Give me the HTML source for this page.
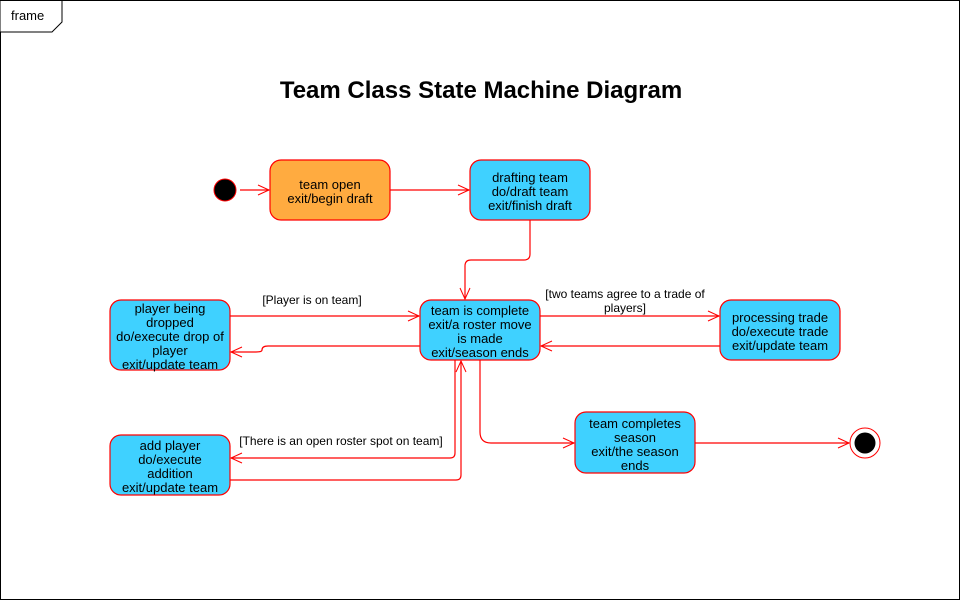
<!DOCTYPE html>
<html><head><style>
body{margin:0;background:#fff;}
svg text{font-family:"Liberation Sans",sans-serif;}
</style></head><body>
<svg width="961" height="601" viewBox="0 0 961 601" xmlns="http://www.w3.org/2000/svg">
<rect x="0.5" y="0.5" width="959" height="599" fill="#fff" stroke="#000"/>
<path d="M0.5 0.5 H62 V22 L52 32 H0.5" fill="#fff" stroke="#000"/>
<text x="11" y="20" font-size="13">frame</text>
<text x="481" y="98" font-size="24" font-weight="bold" text-anchor="middle">Team Class State Machine Diagram</text>
<defs><marker id="a" markerWidth="14" markerHeight="12" refX="12" refY="6" orient="auto" markerUnits="userSpaceOnUse"><path d="M1 1 L12 6 L1 11" fill="none" stroke="#f00" stroke-width="1"/></marker></defs>
<g fill="none" stroke="#f00" stroke-width="1.2" marker-end="url(#a)">
<path d="M240 190 H269"/>
<path d="M390 190 H469"/>
<path d="M530 220 V254 Q530 260 524 260 H471 Q465 260 465 266 V299"/>
<path d="M230 316 H419"/>
<path d="M420 346 H268 Q262 346 262 350 Q262 352 256 352 H231"/>
<path d="M540 316 H719"/>
<path d="M720 346 H541"/>
<path d="M480 360 V432 Q480 443 491 443 H574"/>
<path d="M695 443 H849"/>
<path d="M455 360 V453 Q455 458 450 458 H231"/>
<path d="M230 480 H456 Q461 480 461 475 V361"/>
</g>
<circle cx="225" cy="190" r="11" fill="#000" stroke="#f00"/>
<circle cx="865" cy="443" r="15" fill="#fff" stroke="#f00"/>
<circle cx="865" cy="443" r="10.5" fill="#000"/>
<g stroke="#f00" stroke-width="1.2">
<rect x="270" y="160" width="120" height="60" rx="11" fill="#ffab40"/>
<rect x="470" y="160" width="120" height="60" rx="11" fill="#3fd1ff"/>
<rect x="420" y="300" width="120" height="60" rx="11" fill="#3fd1ff"/>
<rect x="110" y="300" width="120" height="70" rx="11" fill="#3fd1ff"/>
<rect x="720" y="300" width="120" height="60" rx="11" fill="#3fd1ff"/>
<rect x="110" y="435" width="120" height="60" rx="11" fill="#3fd1ff"/>
<rect x="575" y="412" width="120" height="61" rx="11" fill="#3fd1ff"/>
</g>
<g font-size="13" text-anchor="middle" fill="#000">
<text x="330" y="189">team open</text><text x="330" y="203">exit/begin draft</text>
<text x="530" y="182">drafting team</text><text x="530" y="196">do/draft team</text><text x="530" y="210">exit/finish draft</text>
<text x="480" y="315">team is complete</text><text x="480" y="329">exit/a roster move</text><text x="480" y="343">is made</text><text x="480" y="357">exit/season ends</text>
<text x="170" y="313">player being</text><text x="170" y="327">dropped</text><text x="170" y="341">do/execute drop of</text><text x="170" y="355">player</text><text x="170" y="369">exit/update team</text>
<text x="780" y="322">processing trade</text><text x="780" y="336">do/execute trade</text><text x="780" y="350">exit/update team</text>
<text x="170" y="450">add player</text><text x="170" y="464">do/execute</text><text x="170" y="478">addition</text><text x="170" y="492">exit/update team</text>
<text x="635" y="428">team completes</text><text x="635" y="442">season</text><text x="635" y="456">exit/the season</text><text x="635" y="470">ends</text>
</g>
<g font-size="12" text-anchor="middle" fill="#000">
<text x="312" y="304">[Player is on team]</text>
<text x="625" y="298">[two teams agree to a trade of</text><text x="625" y="312">players]</text>
<text x="341" y="445">[There is an open roster spot on team]</text>
</g>
</svg>
</body></html>
